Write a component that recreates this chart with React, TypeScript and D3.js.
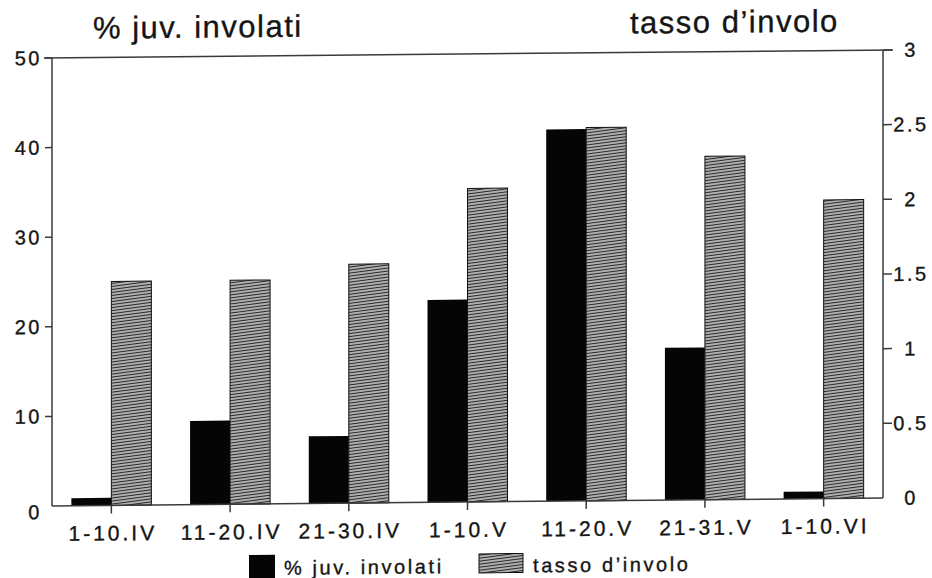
import React from "react";
import * as d3 from "d3";

const categories = ["1-10.IV", "11-20.IV", "21-30.IV", "1-10.V", "11-20.V", "21-31.V", "1-10.VI"];
const juvPct = [0.85, 9.35, 7.5, 22.6, 41.5, 17.0, 0.8];
const tassoInvolo = [1.5, 1.5, 1.6, 2.1, 2.5, 2.3, 2.0];
const leftTicks = [0, 10, 20, 30, 40, 50];
const rightTicks = [0, 0.5, 1, 1.5, 2, 2.5, 3];
const leftTitle = "% juv. involati";
const rightTitle = "tasso d\u2019involo";

const W = 932;
const H = 578;
const X0 = 52;
const X1 = 883;
const YB = 506;
const YT = 58;
const FONT = "'Liberation Sans', Arial, Helvetica, sans-serif";
const INK = "#151515";

export default function App() {
  const x = d3.scaleBand<string>().domain(categories).range([X0, X1]).paddingInner(0.326).paddingOuter(0.163);
  const yL = d3.scaleLinear().domain([0, 50]).range([YB, YT]);
  const yR = d3.scaleLinear().domain([0, 3]).range([YB, YT]);
  const bw = x.bandwidth() / 2;

  return (
    <svg width={W} height={H} style={{ position: "absolute", left: 0, top: 0, background: "#fff" }}>
      <defs>
        <pattern id="hatch" patternUnits="userSpaceOnUse" width={8} height={3} patternTransform="rotate(-7)">
          <rect width={8} height={3} fill="#d0d0d0" />
          <rect y={0.8} width={8} height={1.4} fill="#2a2a2a" />
        </pattern>
      </defs>
      <g transform={`translate(${X0},0) skewY(-0.55) translate(${-X0},0)`} fontFamily={FONT} fill={INK}
        stroke={INK} strokeWidth={0.35}>
        {/* titles */}
        <text x={93} y={39} fontSize={31} letterSpacing={1.5}>{leftTitle}</text>
        <text x={630} y={39} fontSize={31} letterSpacing={1.5}>{rightTitle}</text>

        {/* bars */}
        {categories.map((c, i) => (
          <g key={c}>
            <rect x={x(c)!} y={yL(juvPct[i])} width={bw} height={YB - yL(juvPct[i])} fill="#050505" stroke="none" />
            <rect x={x(c)! + bw} y={yR(tassoInvolo[i])} width={bw} height={YB - yR(tassoInvolo[i])}
              fill="url(#hatch)" stroke="#111" strokeWidth={1} />
          </g>
        ))}

        {/* frame */}
        <g stroke="#3a3a3a" strokeWidth={1.5} fill="none">
          <line x1={X0} x2={X0} y1={YT} y2={YB} />
          <line x1={X1} x2={X1} y1={YT} y2={YB} />
          <line x1={X0 - 8} x2={X1 + 10} y1={YT} y2={YT} />
          <line x1={X0} x2={X1} y1={YB} y2={YB} />
          {leftTicks.filter((t) => t > 0).map((t) => (
            <line key={"lt" + t} x1={X0 - 7} x2={X0} y1={yL(t)} y2={yL(t)} />
          ))}
          {rightTicks.filter((t) => t > 0).map((t) => (
            <line key={"rt" + t} x1={X1} x2={X1 + 9} y1={yR(t)} y2={yR(t)} />
          ))}
          {categories.map((c) => (
            <line key={"ct" + c} x1={x(c)! + bw} x2={x(c)! + bw} y1={YB} y2={YB + 8} />
          ))}
        </g>

        {/* left tick labels */}
        {leftTicks.map((t) => (
          <text key={"ll" + t} x={42} y={yL(t) + (t === 0 ? 6 : 0)} fontSize={20} letterSpacing={2.5}
            textAnchor="end" dominantBaseline="central">{t}</text>
        ))}
        {/* right tick labels */}
        {rightTicks.map((t) => (
          <text key={"rl" + t} x={911} y={yR(t)} fontSize={20} letterSpacing={2.5}
            textAnchor="middle" dominantBaseline="central">{String(t)}</text>
        ))}
        {/* category labels */}
        {categories.map((c) => (
          <text key={"cl" + c} x={x(c)! + bw + 1.5} y={541} fontSize={21} letterSpacing={3}
            textAnchor="middle">{c}</text>
        ))}

        {/* legend */}
        <rect x={249} y={557} width={26} height={24} fill="#050505" stroke="none" />
        <text x={284} y={577} fontSize={20} letterSpacing={2.6}>{leftTitle}</text>
        <rect x={479} y={558} width={44} height={19} fill="url(#hatch)" stroke="#111" strokeWidth={1} />
        <text x={533} y={577} fontSize={20} letterSpacing={2.6}>{rightTitle}</text>
      </g>
    </svg>
  );
}
